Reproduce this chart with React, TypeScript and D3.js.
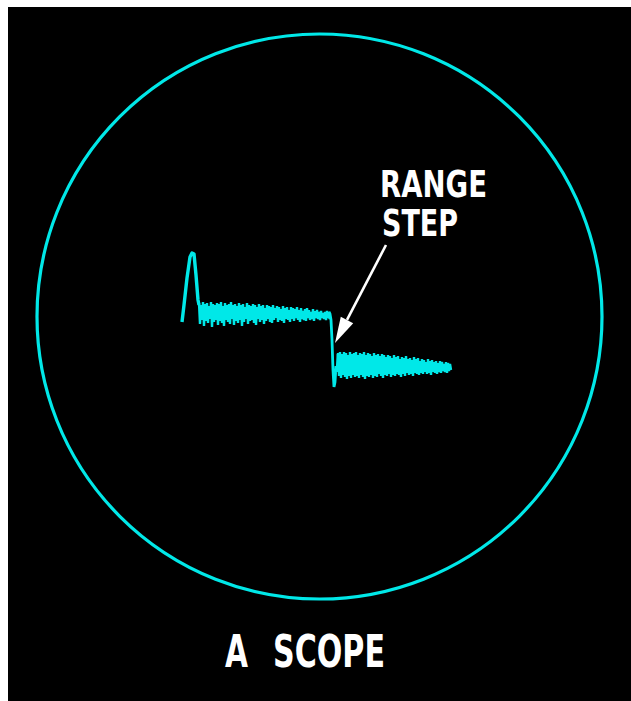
import React from "react";
import * as d3 from "d3";

// Title / annotation text
const titleText = ["A", "SCOPE"];
const annotationLines = ["RANGE", "STEP"];

// Trace: time axis in range units (0..268), amplitude in display units (0..150)
// Initial (main bang) pulse
const pulseT = [0, 2, 5, 8, 10, 12, 14, 16, 17];
const pulseV = [78, 95, 122, 143, 147, 146, 125, 100, 95];

// Grass before the range step: sampled every 2 units from t=17
const band1Start = 17;
const band1Hi = [97, 95, 98, 96, 97, 94, 98, 96, 95, 97, 96, 98, 94, 97, 95, 96, 98, 95, 96, 94, 97, 95, 96, 93, 97, 95, 94, 96, 95, 93, 96, 94, 95, 92, 95, 94, 93, 95, 92, 94, 93, 91, 94, 92, 93, 90, 93, 92, 91, 93, 90, 92, 89, 91, 92, 90, 88, 91, 89, 90, 88, 89, 87, 88, 89, 88];
const band1Lo = [76, 80, 74, 79, 77, 81, 73, 78, 80, 75, 79, 77, 74, 80, 78, 76, 81, 75, 79, 77, 80, 74, 78, 81, 76, 79, 80, 77, 75, 81, 78, 80, 76, 79, 81, 78, 77, 80, 82, 78, 80, 79, 77, 81, 80, 78, 81, 79, 82, 80, 78, 81, 80, 79, 82, 80, 81, 79, 82, 81, 80, 82, 81, 80, 82, 81];

// The range step itself
const stepT = [147, 148, 149, 150, 151, 152, 153, 154, 155, 156];
const stepV = [88, 86, 80, 60, 30, 13, 18, 34, 28, 46];

// Grass after the range step: sampled every 2 units from t=156
const band2Start = 156;
const band2Hi = [47, 48, 46, 48, 47, 45, 48, 46, 47, 48, 45, 47, 46, 48, 45, 47, 46, 44, 47, 45, 46, 44, 46, 45, 43, 45, 44, 42, 45, 43, 44, 41, 43, 42, 44, 41, 42, 40, 43, 41, 42, 39, 41, 40, 38, 41, 39, 40, 38, 39, 37, 39, 38, 36, 38, 37, 36];
const band2Lo = [24, 22, 25, 23, 21, 24, 22, 25, 23, 24, 22, 25, 23, 21, 24, 23, 25, 22, 24, 23, 26, 24, 22, 25, 24, 26, 23, 25, 24, 26, 25, 23, 26, 24, 27, 25, 26, 24, 27, 26, 25, 27, 26, 28, 26, 27, 25, 28, 27, 26, 28, 27, 29, 28, 27, 29, 30];

// Arrow for the annotation (in trace units): from label to the step
const arrowFrom = [204, 155];
const arrowTo = [153, 57];

const W = 631;
const H = 701;
const CYAN = "#00e8e8";

function zigzag(start: number, hi: number[], lo: number[]): [number, number][] {
  const pts: [number, number][] = [];
  hi.forEach((h, i) => {
    pts.push([start + 2 * i, h]);
    pts.push([start + 2 * i + 1, lo[i]]);
  });
  return pts;
}

export default function App() {
  const x = d3.scaleLinear().domain([0, 268]).range([182, 450]);
  const y = d3.scaleLinear().domain([0, 150]).range([400, 250]);
  const line = d3
    .line<[number, number]>()
    .x((d) => x(d[0]))
    .y((d) => y(d[1]));

  const pulse = pulseT.map((t, i) => [t, pulseV[i]] as [number, number]);
  const step = stepT.map((t, i) => [t, stepV[i]] as [number, number]);
  const b1 = zigzag(band1Start, band1Hi, band1Lo);
  const b2 = zigzag(band2Start, band2Hi, band2Lo);

  // arrow geometry
  const ax1 = x(arrowFrom[0]);
  const ay1 = y(arrowFrom[1]);
  const ax2 = x(arrowTo[0]);
  const ay2 = y(arrowTo[1]);
  const dx = ax2 - ax1;
  const dy = ay2 - ay1;
  const len = Math.hypot(dx, dy);
  const ux = dx / len;
  const uy = dy / len;
  const headL = 26;
  const headW = 7;
  const bx = ax2 - ux * headL;
  const by = ay2 - uy * headL;
  const px = -uy;
  const py = ux;
  const head = `M${ax2},${ay2}L${bx + px * headW},${by + py * headW}L${bx - px * headW},${by - py * headW}Z`;

  const font = "'DejaVu Sans', 'Liberation Sans', sans-serif";

  return (
    <svg
      width={W}
      height={H}
      style={{ position: "absolute", left: 0, top: 0, display: "block" }}
    >
      <rect x={8} y={7} width={W - 8} height={H - 7} fill="#000" />
      <circle cx={319.5} cy={316.5} r={282.5} fill="none" stroke={CYAN} strokeWidth={3.2} />

      <path d={line(pulse) || ""} fill="none" stroke={CYAN} strokeWidth={3.4} strokeLinejoin="round" />
      <path d={line(b1) || ""} fill="none" stroke={CYAN} strokeWidth={2.4} />
      <path d={line([[band1Start + 2 * (band1Hi.length - 1) + 1, band1Lo[band1Lo.length - 1]], ...step]) || ""} fill="none" stroke={CYAN} strokeWidth={2.8} />
      <path d={line(b2) || ""} fill="none" stroke={CYAN} strokeWidth={2.4} />

      <line x1={ax1} y1={ay1} x2={bx} y2={by} stroke="#fff" strokeWidth={2.6} />
      <path d={head} fill="#fff" />

      <text fill="#fff" fontFamily={font} fontWeight="bold" fontSize={38}>
        <tspan x={380} y={197} textLength={107} lengthAdjust="spacingAndGlyphs">
          {annotationLines[0]}
        </tspan>
        <tspan x={382} y={236} textLength={76} lengthAdjust="spacingAndGlyphs">
          {annotationLines[1]}
        </tspan>
      </text>

      <text fill="#fff" fontFamily={font} fontWeight="bold" fontSize={45}>
        <tspan x={225} y={667} textLength={23} lengthAdjust="spacingAndGlyphs">
          {titleText[0]}
        </tspan>
        <tspan x={262.5} y={667} textLength={122.5} lengthAdjust="spacingAndGlyphs">
          {" " + titleText[1]}
        </tspan>
      </text>
    </svg>
  );
}
